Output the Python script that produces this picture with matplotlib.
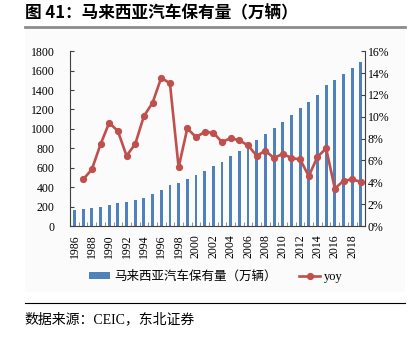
import matplotlib.pyplot as plt
import numpy as np
from matplotlib.patches import Rectangle

plt.rcParams['font.family'] = ['Liberation Serif', 'Noto Sans CJK SC', 'DejaVu Sans']

years = list(range(1986, 2020))
stock = [165, 171, 182, 199, 216, 233, 247, 267, 291, 326, 370, 422, 439, 480,
         521, 566, 614, 662, 717, 771, 823, 885, 943, 1005, 1073, 1141, 1214,
         1272, 1352, 1448, 1500, 1562, 1628, 1693]
yoy = [np.nan, 4.27, 5.18, 7.47, 9.45, 8.69, 6.43, 7.50, 10.06, 11.28, 13.57,
       13.05, 5.37, 8.93, 8.14, 8.60, 8.54, 7.68, 8.05, 7.84, 7.38, 6.43, 6.89,
       6.22, 6.62, 6.22, 6.10, 4.57, 6.34, 7.10, 3.43, 4.14, 4.27, 4.05]
tick_years = [str(y) for y in range(1986, 2019, 2)]

bar_label = '马来西亚汽车保有量（万辆）'
line_label = 'yoy'

fig = plt.figure(figsize=(4.15, 3.41), dpi=100)

# светлая подложка и линии оформления
fig.patches.append(Rectangle((0.06, 0.145), 0.915, 0.77, transform=fig.transFigure,
                             facecolor='#FBFBFB', edgecolor='none', zorder=-5))
fig.add_artist(plt.Line2D([0.06, 0.975], [0.92, 0.92], transform=fig.transFigure,
                          color='#8C8C8C', lw=2))
fig.add_artist(plt.Line2D([0.06, 0.975], [0.111, 0.111], transform=fig.transFigure,
                          color='black', lw=0.8))
fig.text(0.06, 0.962, '图 41：马来西亚汽车保有量（万辆）', fontsize=12, fontweight='bold',
         va='center', ha='left', family=['Noto Sans CJK SC', 'DejaVu Sans'])
fig.text(0.06, 0.064, '数据来源：CEIC，东北证券', fontsize=10, va='center', ha='left',
         family=['Liberation Serif', 'Noto Sans CJK SC'])

ax = fig.add_axes([0.169, 0.337, 0.711, 0.513])
ax.set_facecolor('none')
x = np.arange(len(years))
bars = ax.bar(x, stock, width=0.33, color='#4F81BD', label=bar_label, zorder=2)
ax.set_ylim(0, 1800)
ax.set_yticks(range(0, 1801, 200))
ax.set_xlim(-0.5, len(years) - 0.5)
ax.set_xticks(x[::2])
ax.set_xticklabels(tick_years, rotation=90)
ax.set_xticks(np.arange(-0.5, len(years), 1), minor=True)
ax.tick_params(axis='y', labelsize=8.5, length=3, direction='in', pad=11, color='#404040')
ax.tick_params(axis='x', which='major', labelsize=8.5, length=0, pad=6)
ax.tick_params(axis='x', which='minor', length=3, direction='in', color='#808080')
ax.spines['top'].set_visible(False)
ax.spines['left'].set_color('#404040')
ax.spines['bottom'].set_color('#404040')
ax.spines['right'].set_visible(False)

ax2 = ax.twinx()
line, = ax2.plot(x, yoy, color='#C0504D', lw=1.9, marker='o', markersize=4.2,
                 label=line_label, zorder=3)
ax2.set_ylim(0, 16)
ax2.set_yticks(range(0, 17, 2))
ax2.set_yticklabels([f'{v}%' for v in range(0, 17, 2)])
ax2.tick_params(axis='y', labelsize=8.5, length=3, direction='in', pad=2, color='#404040')
ax2.spines['top'].set_visible(False)
ax2.spines['left'].set_visible(False)
ax2.spines['bottom'].set_visible(False)
ax2.spines['right'].set_color('#404040')

fig.legend([bars, line], [bar_label, line_label], loc='center', ncol=2,
           bbox_to_anchor=(0.52, 0.188), frameon=False,
           handlelength=1.7, handleheight=0.5, handletextpad=0.3, columnspacing=1.8,
           prop={'family': ['Liberation Serif', 'Noto Sans CJK SC'], 'size': 9})

fig.savefig('out.png', dpi=100)
